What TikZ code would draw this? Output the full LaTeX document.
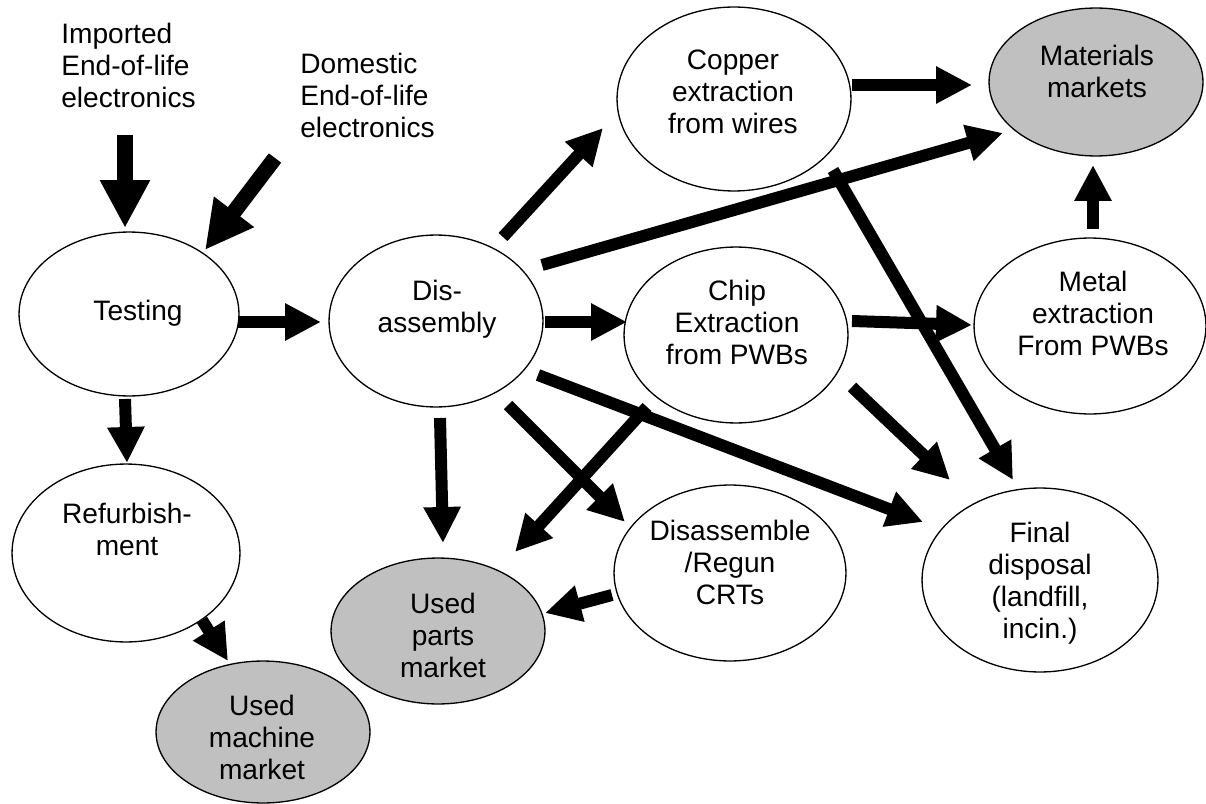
\documentclass[tikz,border=0pt]{standalone}
\usepackage{fontspec}
\setmainfont{Liberation Sans}
\usetikzlibrary{arrows.meta,shapes.geometric}
\definecolor{mktgray}{RGB}{192,192,192}
\begin{document}
\begin{tikzpicture}[x=0.02cm,y=-0.02cm,
 oval/.style n args={2}{ellipse, draw=black, line width=0.75pt, fill=white, inner sep=0pt, minimum width={#1*0.04cm}, minimum height={#2*0.04cm}},
 market/.style={fill=mktgray},
 txt/.style={inner sep=0pt, align=center, font=\fontsize{16}{18.2}\selectfont},
 arr/.style={line width=0.24cm, -{Triangle[length=0.72cm,width=0.70cm]}},
 bigarr/.style={line width=0.31cm, -{Triangle[length=0.96cm,width=0.94cm]}},
]
\useasboundingbox (0,0) rectangle (1206,804);

% ellipses
\node[oval={110}{82}] (testing) at (129,314) {};
\node[oval={107}{86}] (dis) at (436,321) {};
\node[oval={117}{92}] (copper) at (734,99) {};
\node[oval={112}{88}] (chip) at (736,335) {};
\node[oval={116}{88}] (metal) at (1090,326) {};
\node[oval={107}{74}, market] (mat) at (1096,82) {};
\node[oval={116}{88}] (crt) at (730,573) {};
\node[oval={118}{92}] (final) at (1040,580) {};
\node[oval={114}{89}] (refurb) at (126,553) {};
\node[oval={107}{71}, market] (um) at (263,732) {};
\node[oval={107}{73}, market] (up) at (438,631) {};

% texts
\node[txt, align=left, anchor=west] (imp) at (61,65) {Imported\\End-of-life\\electronics};
\node[txt, align=left, anchor=west] (dom) at (300,95) {Domestic\\End-of-life\\electronics};
\node[txt] (t-testing) at (138,313) {Testing};
\node[txt] (t-dis) at (437,309) {Dis-\\assembly};
\node[txt] (t-copper) at (733,92) {Copper\\extraction\\from wires};
\node[txt] (t-chip) at (737,322) {Chip\\Extraction\\from PWBs};
\node[txt] (t-metal) at (1093,313) {Metal\\extraction\\From PWBs};
\node[txt] (t-mat) at (1097,71) {Materials\\markets};
\node[txt] (t-refurb) at (127,529) {Refurbish-\\ment};
\node[txt] (t-um) at (262,737) {Used\\machine\\market};
\node[txt] (t-up) at (443,635) {Used\\parts\\market};
\node[txt] (t-crt) at (730,562) {Disassemble\\/Regun\\CRTs};
\node[txt] (t-final) at (1040,583) {Final\\disposal\\(landfill,\\incin.)};

% arrows
\draw[bigarr] ([shift={(64,70)}]imp.west) -- ([shift={(-4,-86)}]testing.center);
\draw[bigarr] ([shift={(-25,63)}]dom.west) -- ([shift={(76,-64)}]testing.center);
\draw[arr] ([shift={(109,8)}]testing.center) -- ([shift={(-115,1)}]dis.center);
\draw[arr] ([shift={(-4,85)}]testing.center) -- ([shift={(1,-90)}]refurb.center);
\draw[arr] ([shift={(76,67)}]refurb.center) -- ([shift={(-35,-71)}]um.center);
\draw[arr] ([shift={(67,-84)}]dis.center) -- ([shift={(-131,29)}]copper.center);
\draw[arr] ([shift={(106,-56)}]dis.center) -- ([shift={(-93,51)}]mat.center);
\draw[arr] ([shift={(109,1)}]dis.center) -- ([shift={(-109,-13)}]chip.center);
\draw[arr] ([shift={(118,-14)}]copper.center) -- ([shift={(-124,3)}]mat.center);
\draw[arr] ([shift={(99,71)}]copper.center) -- ([shift={(-27,-100)}]final.center);
\draw[arr] ([shift={(116,-14)}]chip.center) -- ([shift={(-118,-1)}]metal.center);
\draw[arr] ([shift={(3,-97)}]metal.center) -- ([shift={(-3,83)}]mat.center);
\draw[arr] ([shift={(116,52)}]chip.center) -- ([shift={(-90,-100)}]final.center);
\draw[arr] ([shift={(102,54)}]dis.center) -- ([shift={(-117,-58)}]final.center);
\draw[arr] ([shift={(72,84)}]dis.center) -- ([shift={(-105,-51)}]crt.center);
\draw[arr] ([shift={(-89,72)}]chip.center) -- ([shift={(77,-79)}]up.center);
\draw[arr] ([shift={(4,97)}]dis.center) -- ([shift={(5,-88)}]up.center);
\draw[arr] ([shift={(-118,22)}]crt.center) -- ([shift={(107,-18)}]up.center);
\end{tikzpicture}
\end{document}
